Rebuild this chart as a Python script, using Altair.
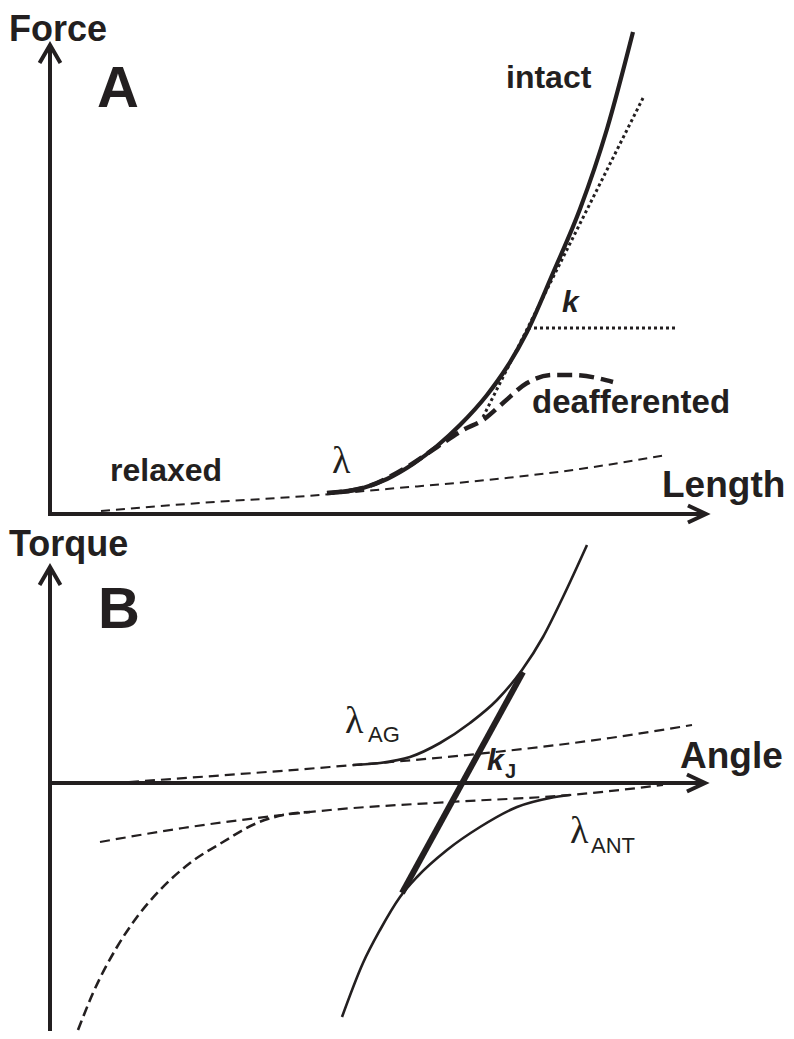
import altair as alt
import pandas as pd

INK = "#231f20"
SANS = "Liberation Sans, Arial, Helvetica, sans-serif"
SERIF = "Liberation Serif, Times New Roman, serif"

# ---------------- Panel A : Force vs Length (arbitrary units) ----------------
intact_len = [277, 313, 337, 363, 387, 410, 437, 457, 477, 503, 530, 557, 583]
intact_force = [21, 26, 35, 50, 68, 89, 119, 147, 182, 241, 305, 385, 482]
deaff_len = [277, 313, 357, 387, 413, 433, 453, 477, 503, 523, 563]
deaff_force = [21, 26, 47, 67, 84, 94, 111, 131, 139, 139, 132]
relaxed_len = [51, 150, 270, 337, 437, 530, 616]
relaxed_force = [3, 11, 19, 25, 34, 45, 59]
tangent_len = [433, 593]
tangent_force = [97, 416]
kref_len = [478, 628]
kref_force = [186, 186]
axisA_len_end = 656      # Length axis arrow tip
axisA_force_end = 469    # Force axis arrow tip

# ---------------- Panel B : Torque vs Angle (arbitrary units) ----------------
ag_ang = [303, 330, 360, 390, 420, 447, 472, 493, 513, 537]
ag_tq = [18, 20, 26, 40, 60, 83, 113, 146, 186, 238]
ant_ang = [292, 313, 330, 350, 367, 397, 430, 467, 500, 520]
ant_tq = [-234, -180, -147, -114, -94, -67, -44, -24, -15, -12]
kj_ang = [352, 473]
kj_tq = [-110, 111]
pas_up_ang = [79, 280, 427, 560, 642]
pas_up_tq = [1, 16, 29, 45, 58]
pas_lo_ang = [50, 133, 207, 280, 400, 520, 613]
pas_lo_tq = [-59, -45, -35, -27, -19, -12, -2]
left_ang = [28, 43, 67, 87, 110, 140, 173, 207, 233, 260]
left_tq = [-247, -210, -164, -134, -107, -80, -59, -40, -32, -29]
axisB_ang_end = 655
axisB_tq_top = 216
axisB_tq_bottom = -248

XDOM = [-42, 736]
YDOM_A = [-517, 506]
YDOM_B = [-248, 775]

X = alt.X("x:Q", scale=alt.Scale(domain=XDOM, nice=False, zero=False), axis=None)
X2 = alt.X2("x2:Q")


def yenc(dom):
    return alt.Y("y:Q", scale=alt.Scale(domain=dom, nice=False, zero=False), axis=None)


def curve(xs, ys, dom, width, dash=None):
    df = pd.DataFrame({"x": xs, "y": ys})
    kw = dict(color=INK, strokeWidth=width, interpolate="monotone", strokeCap="butt")
    if dash:
        kw["strokeDash"] = dash
    return alt.Chart(df).mark_line(**kw).encode(x=X, y=yenc(dom))


def hrule(x0, x1, y, dom, width):
    df = pd.DataFrame({"x": [x0], "x2": [x1], "y": [y]})
    return alt.Chart(df).mark_rule(color=INK, strokeWidth=width, strokeCap="butt").encode(
        x=X, x2=X2, y=yenc(dom))


def vrule(x, y0, y1, dom, width):
    df = pd.DataFrame({"x": [x], "y": [y0], "y2": [y1]})
    return alt.Chart(df).mark_rule(color=INK, strokeWidth=width, strokeCap="butt").encode(
        x=X, y=yenc(dom), y2=alt.Y2("y2:Q"))


UP = "M-0.55,0.95L0,0L0.55,0.95"
RIGHT = "M-0.95,-0.45L0,0L-0.95,0.45"


def arrow(x, y, shape, dom):
    df = pd.DataFrame({"x": [x], "y": [y]})
    return alt.Chart(df).mark_point(shape=shape, size=1444, filled=False, color=INK,
                                    strokeWidth=4, opacity=1).encode(x=X, y=yenc(dom))


def label(x, y, text, dom, size, weight="bold", style="normal", font=SANS):
    df = pd.DataFrame({"x": [x], "y": [y], "t": [text]})
    return alt.Chart(df).mark_text(align="left", baseline="alphabetic", font=font,
                                   fontSize=size, fontWeight=weight, fontStyle=style,
                                   color=INK).encode(x=X, y=yenc(dom), text="t:N")


A = YDOM_A
panelA = alt.layer(
    vrule(0, -2, axisA_force_end, A, 4),
    hrule(0, axisA_len_end, 0, A, 4),
    arrow(0, axisA_force_end, UP, A),
    arrow(axisA_len_end, 0, RIGHT, A),
    curve(relaxed_len, relaxed_force, A, 2, [9, 6]),
    curve(tangent_len, tangent_force, A, 3, [3, 3]),
    curve(kref_len, kref_force, A, 3, [3, 3]),
    curve(deaff_len, deaff_force, A, 4.5, [15, 7]),
    curve(intact_len, intact_force, A, 4.2),
    label(-41, 473, "Force", A, 36),
    label(47, 407, "A", A, 58),
    label(456, 426, "intact", A, 32),
    label(512, 202, "k", A, 30, style="italic"),
    label(482, 101, "deafferented", A, 33),
    label(60, 33, "relaxed", A, 32),
    label(282, 41, "λ", A, 38, weight="normal", font=SERIF),
    label(612, 17, "Length", A, 37),
)

B = YDOM_B
panelB = alt.layer(
    vrule(0, axisB_tq_bottom, axisB_tq_top, B, 4),
    hrule(0, axisB_ang_end, 0, B, 4),
    arrow(0, axisB_tq_top, UP, B),
    arrow(axisB_ang_end, 0, RIGHT, B),
    curve(pas_up_ang, pas_up_tq, B, 2.2, [10, 6]),
    curve(pas_lo_ang, pas_lo_tq, B, 2.2, [10, 6]),
    curve(left_ang, left_tq, B, 2.6, [10, 5]),
    curve(ag_ang, ag_tq, B, 2.6),
    curve(ant_ang, ant_tq, B, 2.6),
    curve(kj_ang, kj_tq, B, 6),
    label(-41, 227, "Torque", B, 36),
    label(48, 155, "B", B, 58),
    label(630, 15, "Angle", B, 37),
    label(295, 50, "λ", B, 38, weight="normal", font=SERIF),
    label(318, 41, "AG", B, 22, weight="normal"),
    label(437, 13, "k", B, 30, style="italic"),
    label(455, 5, "J", B, 20),
    label(520, -60, "λ", B, 38, weight="normal", font=SERIF),
    label(541, -70, "ANT", B, 22, weight="normal"),
)

chart = (
    alt.layer(panelA, panelB)
    .resolve_scale(y="independent")
    .properties(width=778, height=1023, padding=0, background="white")
    .configure_view(stroke=None)
)

chart.save("out.html", embed_options={"renderer": "svg", "actions": False})
